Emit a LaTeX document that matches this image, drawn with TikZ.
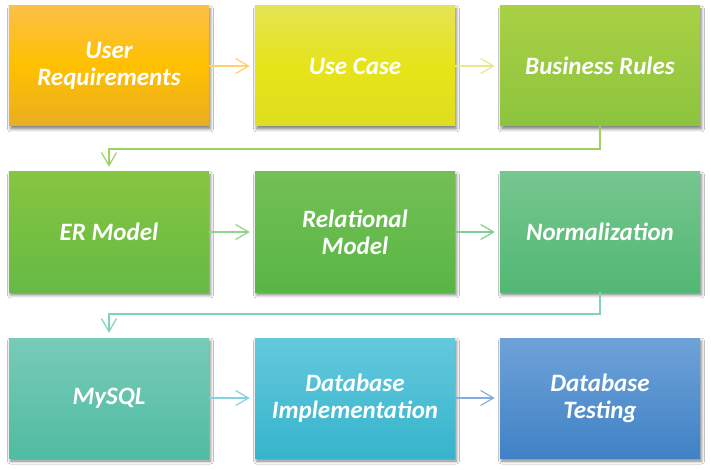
\documentclass[tikz,border=0pt]{standalone}
\usepackage{fontspec}
\setmainfont{Carlito}
\usetikzlibrary{arrows.meta,shadows.blur}
\definecolor{a1}{HTML}{FFD070}
\definecolor{a2}{HTML}{E6EA8A}
\definecolor{a3}{HTML}{9ED25E}
\definecolor{a4}{HTML}{8ED48A}
\definecolor{a5}{HTML}{80CE92}
\definecolor{a6}{HTML}{80D2BC}
\definecolor{a7}{HTML}{84D2E2}
\definecolor{a8}{HTML}{84AEE2}
\definecolor{urT}{HTML}{FCC046}\definecolor{urM}{HTML}{FFC000}\definecolor{urB}{HTML}{E8AE22}
\definecolor{ucT}{HTML}{E4E454}\definecolor{ucM}{HTML}{E6E418}\definecolor{ucB}{HTML}{DEDE20}
\definecolor{brT}{HTML}{AAD044}\definecolor{brB}{HTML}{8CC43E}
\definecolor{erT}{HTML}{86C540}\definecolor{erB}{HTML}{66BA45}
\definecolor{rmT}{HTML}{74C054}\definecolor{rmB}{HTML}{58B644}
\definecolor{nmT}{HTML}{76C690}\definecolor{nmB}{HTML}{52B872}
\definecolor{myT}{HTML}{78CBB9}\definecolor{myB}{HTML}{50BCA2}
\definecolor{diT}{HTML}{64C9DD}\definecolor{diB}{HTML}{36B4CC}
\definecolor{dtT}{HTML}{6EA2D8}\definecolor{dtB}{HTML}{4082C6}
\tikzset{
  stepbox/.style={minimum width=200pt, minimum height=120pt, inner sep=0pt,
    align=center, text=white,
    font=\fontsize{25}{27}\selectfont\bfseries\itshape,
    blur shadow={shadow xshift=1.5pt, shadow yshift=-3pt, shadow blur radius=3pt, shadow opacity=50}},
  flow/.style={line width=1.2pt, -{Straight Barb[length=13pt,width=15pt,line width=1.2pt]}, shorten >=5pt}
}
\begin{document}
\begin{tikzpicture}[x=1pt,y=1pt]
\useasboundingbox (0,0) rectangle (711,469);
\fill[white] (0,0) rectangle (711,469);
% row 1
\node[stepbox, top color=urT, bottom color=urB, middle color=urM] (ur) at (109,403) {User\\Requirements};
\node[stepbox, top color=ucT, bottom color=ucB, middle color=ucM] (uc) at (355,403) {Use Case};
\node[stepbox, top color=brT, bottom color=brB] (br) at (600,403) {Business Rules};
% row 2
\node[stepbox, top color=erT, bottom color=erB] (er) at (109,237) {ER Model};
\node[stepbox, top color=rmT, bottom color=rmB] (rm) at (355,237) {Relational\\Model};
\node[stepbox, top color=nmT, bottom color=nmB] (nm) at (600,237) {Normalization};
% row 3
\node[stepbox, top color=myT, bottom color=myB] (my) at (109,71) {MySQL};
\node[stepbox, top color=diT, bottom color=diB] (di) at (355,71) {Database\\Implementation};
\node[stepbox, top color=dtT, bottom color=dtB] (dt) at (600,71) {Database\\Testing};
% connectors
\coordinate (k1) at (600,320);
\coordinate (k2) at (109,320);
\coordinate (k3) at (600,155);
\coordinate (k4) at (109,155);
\draw[flow, a1] (ur) -- (uc);
\draw[flow, a2] (uc) -- (br);
\draw[flow, a3] (br.south) -- (k1) -- (k2) -- (er.north);
\draw[flow, a4] (er) -- (rm);
\draw[flow, a5] (rm) -- (nm);
\draw[flow, a6] (nm.south) -- (k3) -- (k4) -- (my.north);
\draw[flow, a7] (my) -- (di);
\draw[flow, a8] (di) -- (dt);
\end{tikzpicture}
\end{document}
